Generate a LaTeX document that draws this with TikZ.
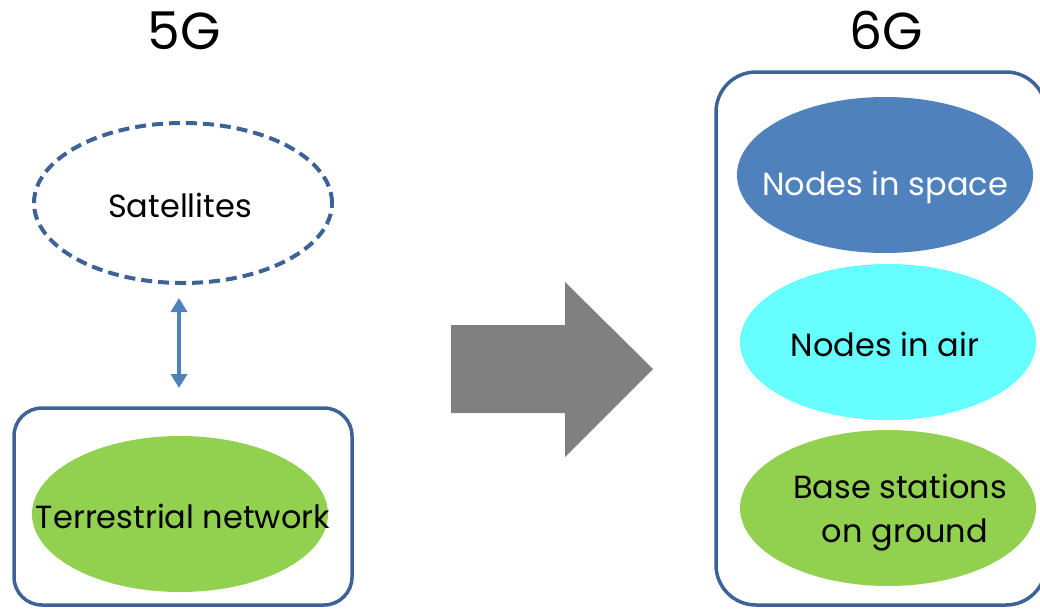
\documentclass[tikz,border=0pt]{standalone}
\usepackage{fontspec}
\setmainfont{Poppins}
\usetikzlibrary{shapes.geometric,arrows.meta}
\definecolor{frameblue}{HTML}{3D6396}
\definecolor{linkblue}{HTML}{4F81BD}
\definecolor{spaceblue}{HTML}{4F81BD}
\definecolor{aircyan}{HTML}{66FFFF}
\definecolor{groundgreen}{HTML}{92D050}
\definecolor{bigarrow}{HTML}{808080}
\tikzset{
  blob/.style={ellipse, inner sep=0pt, minimum width=296pt, minimum height=156pt},
  word/.style={anchor=base, inner sep=0pt, font=\fontsize{32}{44}\selectfont},
  frame/.style={draw=frameblue, line width=3.5pt},
  heading/.style={anchor=base, inner sep=0pt, font=\fontsize{52}{56}\selectfont},
  dblarrow/.style={draw=linkblue, line width=3.5pt, {Triangle[width=16pt,length=14pt]}-{Triangle[width=16pt,length=14pt]}}
}
\begin{document}
\begin{tikzpicture}[x=1pt,y=-1pt]
\useasboundingbox (0,0) rectangle (1040,608);
\clip (0,0) rectangle (1040,608);
% headings
\node[heading] (h5) at (184,49) {5G};
\node[heading] (h6) at (886,49) {6G};
% 5G side
\node[blob, draw=frameblue, line width=4pt, dash pattern=on 11pt off 6pt, minimum width=298pt, minimum height=160pt] (sat) at (183,203) {};
\node[word] (satlabel) at (180,217) {Satellites};
\draw[frame, rounded corners=28pt] (14,408) rectangle (352,605);
\coordinate (boxtop) at (183,408);
\node[blob, fill=groundgreen] (terr) at (180,514) {};
\node[word] (terrlabel) at (183,528) {Terrestrial network};
\draw[dblarrow] ([xshift=-4pt,yshift=-13pt]sat.south) -- ([xshift=-4pt,yshift=20pt]boxtop);
% transition arrow
\fill[bigarrow] (451,325) -- (565,325) -- (565,282) -- (653,369) -- (565,457) -- (565,413) -- (451,413) -- cycle;
% 6G side
\draw[frame, rounded corners=40pt] (716,72) rectangle (1046,605);
\node[blob, fill=spaceblue] (space) at (885,175) {};
\node[word, text=white] (spacelabel) at (885,195) {Nodes in space};
\node[blob, fill=aircyan] (air) at (888,342) {};
\node[word] (airlabel) at (885,356) {Nodes in air};
\node[blob, fill=groundgreen] (ground) at (888,508) {};
\node[word] (groundlabel1) at (900,498) {Base stations};
\node[word] (groundlabel2) at (905,542) {on ground};
\end{tikzpicture}
\end{document}
